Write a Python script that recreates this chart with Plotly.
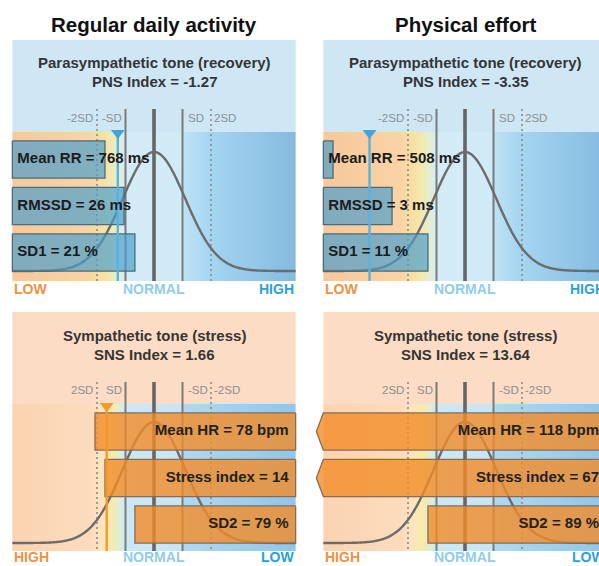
import numpy as np
import plotly.graph_objects as go

W, H = 599, 566

# ---------------- data ----------------
column_titles = ["Regular daily activity", "Physical effort"]

pns_title = "Parasympathetic tone (recovery)"
pns_index_name = "PNS Index"
pns_index = [-1.27, -3.35]
pns_params = ["Mean RR", "RMSSD", "SD1"]
pns_units = ["ms", "ms", "%"]
pns_values = [[768, 26, 21], [508, 3, 11]]
pns_z = [[-1.72, -1.05, -0.67], [-4.63, -2.56, -1.30]]   # position in SD units

sns_title = "Sympathetic tone (stress)"
sns_index_name = "SNS Index"
sns_index = [1.66, 13.64]
sns_params = ["Mean HR", "Stress index", "SD2"]
sns_units = ["bpm", "", "%"]
sns_values = [[78, 14, 79], [118, 67, 89]]
sns_z = [[2.07, 1.72, 0.67], [6.5, 5.8, 1.30]]           # >4.97 = off scale

sd_positions = [-2, -1, 0, 1, 2]
pns_sd_labels = ["-2SD", "-SD", "SD", "2SD"]
sns_sd_labels = ["2SD", "SD", "-SD", "-2SD"]
pns_scale_labels = ["LOW", "NORMAL", "HIGH"]
sns_scale_labels = ["HIGH", "NORMAL", "LOW"]

# ---------------- layout constants ----------------
FONT = "Liberation Sans, Arial, sans-serif"
S = 28.5            # pixels per SD
EDGE = 4.97         # half panel width (SD)
MEAN_PX = [154, 465]
COL_PX = [(0, 309), (309, 599)]
ROW_PX = [(40, 300), (312, 566)]
ROW0_PX = [159.5, 431.5]
STEP = 46.5
BAR_H = 0.8
CURVE_SIGMA = 1.1

rows = [
    dict(title=pns_title, idx_name=pns_index_name, index=pns_index, params=pns_params,
         units=pns_units, values=pns_values, z=pns_z, sd_labels=pns_sd_labels,
         scale=pns_scale_labels, xdir=1, bg="#cfe7f4", bg_top=40, band=(132, 281),
         sub_y=(62, 81), sdlab_y=118, line_top=109, tri_y=133, tri_color="#43a4dc",
         mline_color="#58b3e4", bar_fill="rgba(72,158,205,0.68)", bar_line="#4b6b7a",
         scale_y=289, curve=(271, 152), text_color="#1c1c1c",
         stops=[(-4.97, "#f7c89c"), (-2.3, "#f9d3a6"), (-1.7, "#f7e3a3"), (-1.3, "#e8eec8"),
                (-1.02, "#d4ecf6"), (1.0, "#d0eaf7"), (1.03, "#bde2f5"), (2.0, "#a4d5f1"),
                (4.97, "#85badf")]),
    dict(title=sns_title, idx_name=sns_index_name, index=sns_index, params=sns_params,
         units=sns_units, values=sns_values, z=sns_z, sd_labels=sns_sd_labels,
         scale=sns_scale_labels, xdir=-1, bg="#fcdcc4", bg_top=312, band=(404, 551),
         sub_y=(335, 354), sdlab_y=390, line_top=382, tri_y=406, tri_color="#f39a2c",
         mline_color="#f5982f", bar_fill="rgba(242,140,40,0.8)", bar_line="#8d6a50",
         scale_y=556.5, curve=(543, 422), text_color="#222222",
         stops=[(-4.97, "#fbd3b1"), (-2.2, "#fcdcbd"), (-1.85, "#fde5bf"), (-1.5, "#f8eaa9"),
                (-1.2, "#dcedd8"), (-1.02, "#cce8f6"), (1.0, "#c6e5f5"), (1.03, "#aed9f2"),
                (4.97, "#8fc6eb")]),
]

scale_colors = ["#f1913f", "#92cce8", "#2c9fda"]
line_styles = {
    -2: dict(color="#8a8a8a", width=1.6, dash="2px,3px"),
    -1: dict(color="#7a7a7a", width=2.0),
    0: dict(color="#666666", width=3.6),
    1: dict(color="#7a7a7a", width=2.0),
    2: dict(color="#8a8a8a", width=1.6, dash="2px,3px"),
}

fig = go.Figure()
annotations = []
shapes = []


def ax_names(k):
    return ("x" if k == 1 else f"x{k}"), ("y" if k == 1 else f"y{k}")


def pap(px, py):
    return px / W, 1 - py / H


# column titles
for c in range(2):
    x, y = pap(MEAN_PX[c], 25)
    annotations.append(dict(x=x, y=y, xref="paper", yref="paper", text=f"<b>{column_titles[c]}</b>",
                            showarrow=False, xanchor="center", yanchor="middle",
                            font=dict(family=FONT, size=20.5, color="#111111")))

text_traces = []
for r, R in enumerate(rows):
    for c in range(2):
        k = r * 2 + c + 1
        xa, ya = ax_names(k)
        xd = R["xdir"]
        m = MEAN_PX[c]

        def X(v):
            return xd * v

        def Y(py):
            return (py - ROW0_PX[r]) / STEP

        # axes
        vL = (COL_PX[c][0] - m) / S
        vR = (COL_PX[c][1] - m) / S
        y0p, y1p = ROW_PX[r]
        fig.update_layout(**{
            ("xaxis" if k == 1 else f"xaxis{k}"): dict(
                domain=[COL_PX[c][0] / W, COL_PX[c][1] / W], range=[X(vL), X(vR)],
                visible=False, fixedrange=True, anchor=ya),
            ("yaxis" if k == 1 else f"yaxis{k}"): dict(
                domain=[1 - y1p / H, 1 - y0p / H], range=[Y(y1p), Y(y0p)],
                visible=False, fixedrange=True, anchor=xa),
        })

        # panel top background
        shapes.append(dict(type="rect", xref=xa, yref=ya, x0=X(-EDGE), x1=X(EDGE),
                           y0=Y(R["bg_top"]), y1=Y(R["band"][0]), fillcolor=R["bg"],
                           line_width=0, layer="below"))

        # colour band
        cs = [[(v + EDGE) / (2 * EDGE), col] for v, col in R["stops"]]
        yb0, yb1 = Y(R["band"][0]), Y(R["band"][1])
        fig.add_trace(go.Scatter(
            x=[X(-EDGE), X(EDGE), X(EDGE), X(-EDGE), X(-EDGE)], y=[yb0, yb0, yb1, yb1, yb0],
            mode="lines", line=dict(width=0), fill="toself",
            fillgradient=dict(type="horizontal", colorscale=cs, start=X(-EDGE), stop=X(EDGE)),
            xaxis=xa, yaxis=ya, hoverinfo="skip", showlegend=False))

        # SD lines
        for v in sd_positions:
            fig.add_trace(go.Scatter(x=[X(v), X(v)], y=[Y(R["line_top"]), yb1], mode="lines",
                                     line=line_styles[v], xaxis=xa, yaxis=ya,
                                     hoverinfo="skip", showlegend=False))

        # bell curve
        vv = np.linspace(-EDGE, EDGE, 301)
        base, peak = R["curve"]
        cy = base - (base - peak) * np.exp(-vv ** 2 / (2 * CURVE_SIGMA ** 2))
        fig.add_trace(go.Scatter(x=X(vv), y=Y(cy), mode="lines",
                                 line=dict(color="#6c6c6c", width=2.4, shape="spline"),
                                 xaxis=xa, yaxis=ya, hoverinfo="skip", showlegend=False))

        # bars (start at the panel edge, end at the parameter's SD position;
        # off-scale values are drawn as an arrow at the panel edge)
        for i, zval in enumerate(R["z"][c]):
            y_top, y_bot = i - BAR_H / 2, i + BAR_H / 2
            start = -EDGE
            if zval <= EDGE:
                bx = [start, zval, zval, start, start]
                by = [y_top, y_top, y_bot, y_bot, y_top]
            else:
                tip = EDGE + 7 / S
                bx = [start, EDGE, tip, EDGE, start, start]
                by = [y_top, y_top, i, y_bot, y_bot, y_top]
            fig.add_trace(go.Scatter(x=bx, y=by, mode="lines", fill="toself",
                                     fillcolor=R["bar_fill"],
                                     line=dict(color=R["bar_line"], width=1.3),
                                     xaxis=xa, yaxis=ya, hoverinfo="skip", showlegend=False))

        # index marker
        idx = R["index"][c]
        fig.add_trace(go.Scatter(x=[idx, idx], y=[Y(R["tri_y"]), yb1], mode="lines",
                                 line=dict(color=R["mline_color"], width=2.4),
                                 xaxis=xa, yaxis=ya, hoverinfo="skip", showlegend=False))
        fig.add_trace(go.Scatter(x=[idx], y=[Y(R["tri_y"])], mode="markers",
                                 marker=dict(symbol="triangle-down", size=12, color=R["tri_color"],
                                             line=dict(width=0)),
                                 xaxis=xa, yaxis=ya, hoverinfo="skip", showlegend=False))

        # bar labels
        labels = []
        for p, val, u in zip(R["params"], R["values"][c], R["units"]):
            labels.append(f"<b>{p} = {val}{(' ' + u) if u else ''}</b>")
        if r == 0:
            tx = X(-EDGE + 5 / S)
            tpos = "middle right"
        else:
            tx = X(min(EDGE - 7 / S, (COL_PX[c][1] - m) / S))
            tpos = "middle left"
        text_traces.append(go.Scatter(
            x=[tx] * len(labels), y=list(range(len(labels))), mode="text", text=labels,
            textposition=tpos, textfont=dict(family=FONT, size=15, color=R["text_color"]),
            xaxis=xa, yaxis=ya, hoverinfo="skip", showlegend=False))

        # subtitles
        for j, txt in enumerate([R["title"], f"{R['idx_name']} = {R['index'][c]:.2f}"]):
            x, y = pap(m, R["sub_y"][j])
            annotations.append(dict(x=x, y=y, xref="paper", yref="paper", text=f"<b>{txt}</b>",
                                    showarrow=False, xanchor="center", yanchor="middle",
                                    font=dict(family=FONT, size=15, color="#353535")))

        # SD labels
        for lab, v, anc, off in zip(R["sd_labels"], [-2, -1, 1, 2],
                                    ["right", "right", "left", "left"], [-2, -2, 3, 1]):
            x, y = pap(m + v * S + off, R["sdlab_y"])
            annotations.append(dict(x=x, y=y, xref="paper", yref="paper", text=lab,
                                    showarrow=False, xanchor=anc, yanchor="middle",
                                    font=dict(family=FONT, size=11.5, color="#8b8f93")))

        # scale labels
        for lab, v, anc, col in zip(R["scale"], [-EDGE, 0, EDGE], ["left", "center", "right"],
                                    scale_colors):
            x, y = pap(m + v * S, R["scale_y"])
            annotations.append(dict(x=x, y=y, xref="paper", yref="paper", text=f"<b>{lab}</b>",
                                    showarrow=False, xanchor=anc, yanchor="middle",
                                    font=dict(family=FONT, size=14, color=col)))

for t in text_traces:
    fig.add_trace(t)

fig.update_layout(width=W, height=H, margin=dict(l=0, r=0, t=0, b=0),
                  paper_bgcolor="white", plot_bgcolor="rgba(0,0,0,0)", showlegend=False,
                  annotations=annotations, shapes=shapes, hovermode=False)

fig.write_html("out.html", config={"displayModeBar": False},
               post_script="document.body.style.margin='0';document.body.style.overflow='hidden';")
